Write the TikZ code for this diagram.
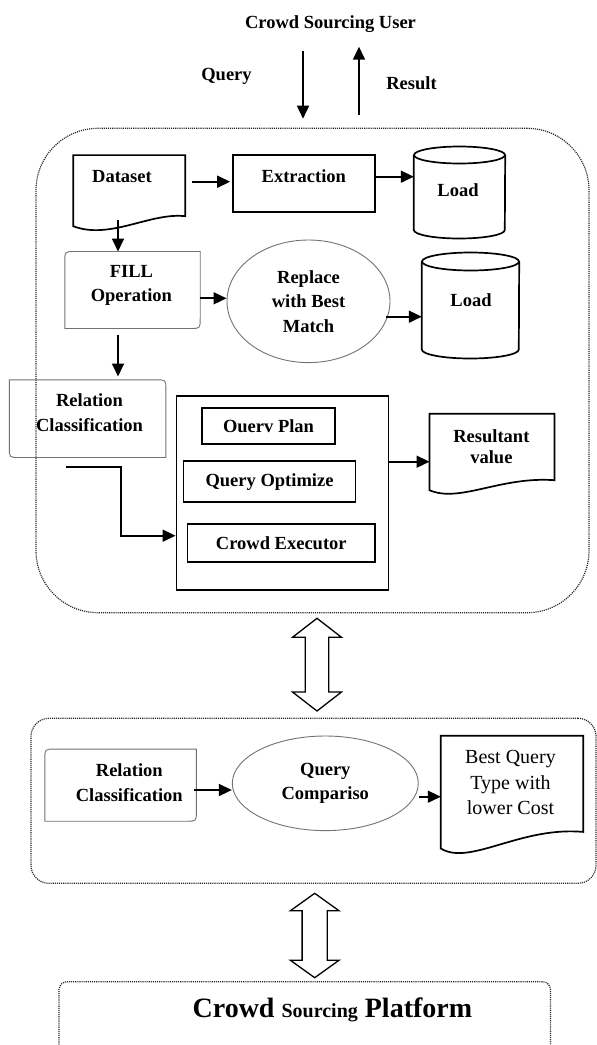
\documentclass[tikz,border=0pt]{standalone}
\usepackage{fontspec}
\setmainfont{Liberation Serif}
\usetikzlibrary{arrows.meta,shapes.geometric,calc}
\begin{document}
\begin{tikzpicture}[x=1pt,y=-1pt,
  lbl/.style={font=\fontsize{18.5}{24.5}\selectfont\bfseries, align=center, inner sep=0pt},
  shp/.style={rectangle, inner sep=0pt},
  blk/.style={draw=black, line width=1.7pt},
  gry/.style={draw=black!55, line width=0.9pt},
  arr/.style={-{Triangle[length=13pt,width=12pt]}, line width=1.7pt},
  dotbox/.style={draw=black!85, line width=1.2pt, dash pattern=on 1.1pt off 1pt, inner sep=0pt},
  dbl/.style={draw, line width=1.3pt, fill=white, line join=miter}]
\useasboundingbox (0,0) rectangle (597,1045);
\clip (0,0) rectangle (597,1045);
\fill[white] (0,0) rectangle (597,1045);

% ---------- top labels ----------
\node[lbl] (user) at (330.5,24.3) {Crowd Sourcing User};
\node[lbl] (qlbl) at (226.5,76.7) {Query};
\node[lbl] (rlbl) at (411.5,83.3) {Result};
\coordinate (qs) at (303,50.7);
\coordinate (re) at (359,46.7);

% ---------- outer box 1 ----------
\node[dotbox, rounded corners=62pt, minimum width=553pt, minimum height=484.4pt] (o1) at (312.5,370.5) {};

\draw[arr, shorten >=9pt] (qs) -- (qs |- o1.north);
\draw[arr, shorten <=12.3pt] (re |- o1.north) -- (re);

% Dataset document
\node[shp, minimum width=111.5pt, minimum height=60.7pt] (ds) at (129.25,185.65) {};
\draw[blk] (ds.south east) -- (ds.north east) -- (ds.north west) -- ($(ds.south west)+(0,10)$)
  .. controls ($(ds.south west)+(36.5,24)$) and ($(ds.south east)+(-35,-4)$) .. (ds.south east) -- cycle;
\node[lbl] (dst) at (122,176.7) {Dataset};

% Extraction
\node[shp, blk, minimum width=142pt, minimum height=56.4pt] (ext) at (304,183.5) {};
\node[lbl] (extt) at (303.8,175.7) {Extraction};

% Load 1
\node[shp, minimum width=91pt, minimum height=91.6pt] (load1) at (459.5,192.5) {};
\draw[blk] ($(load1.north)+(0,8.5)$) ellipse [x radius=45.5pt, y radius=8.5pt];
\draw[blk] ($(load1.north west)+(0,8.5)$) -- ($(load1.south west)+(0,-8.5)$)
  arc[start angle=180, end angle=360, x radius=45.5pt, y radius=8.5pt] -- ($(load1.north east)+(0,8.5)$);
\node[lbl] (l1t) at (458,190) {Load};

% FILL Operation
\node[shp, minimum width=135pt, minimum height=76.6pt] (fill) at (132.5,290) {};
\draw[gry] (fill.south west) -- ($(fill.north west)+(0,10)$) .. controls (fill.north west) .. ($(fill.north west)+(10,0)$)
  -- (fill.north east) -- ($(fill.south east)+(0,-10)$) .. controls (fill.south east) .. ($(fill.south east)+(-10,0)$) -- cycle;
\node[lbl] (fillt) at (131.4,285.3) {FILL\\Operation};

% Replace ellipse
\node[ellipse, gry, lbl, minimum width=163pt, minimum height=122.6pt] (rep) at (308.5,301.3) {Replace\\with Best\\Match};

% Load 2
\node[shp, minimum width=97pt, minimum height=105.6pt] (load2) at (470.5,305.5) {};
\draw[blk] ($(load2.north)+(0,9)$) ellipse [x radius=48.5pt, y radius=9pt];
\draw[blk] ($(load2.north west)+(0,9)$) -- ($(load2.south west)+(0,-9)$)
  arc[start angle=180, end angle=360, x radius=48.5pt, y radius=9pt] -- ($(load2.north east)+(0,9)$);
\node[lbl] (l2t) at (471,300) {Load};

% Relation Classification
\node[shp, minimum width=156.2pt, minimum height=77.3pt] (rel) at (87.6,418.65) {};
\draw[gry] (rel.north west) -- ($(rel.north east)+(-10,0)$) .. controls (rel.north east) .. ($(rel.north east)+(0,10)$)
  -- (rel.south east) -- ($(rel.south west)+(10,0)$) .. controls (rel.south west) .. ($(rel.south west)+(0,-10)$) -- cycle;
\node[lbl] (relt) at (89.5,412.5) {Relation\\Classification};

% Big box with inner boxes
\node[shp, blk, minimum width=212.2pt, minimum height=194.3pt] (big) at (282.5,492.85) {};
\node[shp, blk, lbl, minimum width=133pt, minimum height=36.6pt] (qp) at (268.5,426) {Ouerv Plan};
\node[shp, blk, lbl, minimum width=171.8pt, minimum height=41.3pt] (qo) at (269.5,481.65) {Query Optimize};
\node[shp, blk, lbl, minimum width=187.8pt, minimum height=37.7pt] (ce) at (281.3,542.85) {Crowd Executor};

% Resultant value document
\node[shp, minimum width=124.6pt, minimum height=66pt] (res) at (492,447) {};
\draw[blk] (res.south east) -- (res.north east) -- (res.north west) -- ($(res.south west)+(0,10)$)
  .. controls ($(res.south west)+(30.3,23)$) and ($(res.south east)+(-54.3,-4)$) .. (res.south east) -- cycle;
\node[lbl, font=\fontsize{18.5}{21}\selectfont\bfseries] (rest) at (491.4,446.2) {Resultant\\value};

% connectors in box 1
\draw[arr, shorten <=7pt, shorten >=2pt] (ds.east |- 0,181.7) -- (ext.west |- 0,181.7);
\draw[arr] (ext.east |- 0,176.7) -- (load1.west |- 0,176.7);
\draw[arr] (ds.south -| 118,0) ++(0,4) -- (fill.north -| 118,0);
\draw[arr] (fill.east |- 0,298.3) -- (rep.west |- 0,298.3);
\draw[arr, shorten <=-1pt] (rep.east |- 0,316.7) ++(-3,0) -- (load2.west |- 0,316.7);
\draw[arr, shorten <=6.7pt, shorten >=3.3pt] (fill.south -| 118,0) -- (rel.north -| 118,0);
\draw[arr] (rel.south -| 65.5,0) ++(0,9.4) -| (121.1,535.7) -- (big.west |- 0,535.7);
\draw[arr] (big.east |- 0,461.7) -- (res.west |- 0,461.7);

% ---------- double arrow 1 ----------
\draw[dbl] (317,618.3) -- (341.5,637.3) -- (328.8,637.3) -- (328.8,692) -- (341.5,692) -- (317,711)
  -- (292.5,692) -- (305.2,692) -- (305.2,637.3) -- (292.5,637.3) -- cycle;

% ---------- outer box 2 ----------
\node[dotbox, rounded corners=18pt, minimum width=565pt, minimum height=165pt] (o2) at (313.5,800.8) {};

\node[shp, minimum width=151.2pt, minimum height=71.7pt] (rel2) at (120.6,785.15) {};
\draw[gry] (rel2.south west) -- ($(rel2.north west)+(0,10)$) .. controls (rel2.north west) .. ($(rel2.north west)+(10,0)$)
  -- (rel2.north east) -- ($(rel2.south east)+(0,-10)$) .. controls (rel2.south east) .. ($(rel2.south east)+(-10,0)$) -- cycle;
\node[lbl] (rel2t) at (129.3,782.9) {Relation\\Classification};

\node[ellipse, gry, lbl, minimum width=186pt, minimum height=94.6pt] (cmp) at (325.3,783.3) {Query\\Compariso};

\node[shp, minimum width=142pt, minimum height=95.7pt] (best) at (512,783.85) {};
\draw[blk] (best.south east) -- (best.north east) -- (best.north west) -- ($(best.south west)+(0,16.6)$)
  .. controls ($(best.south west)+(29,34.3)$) and ($(best.south east)+(-63,-5.7)$) .. (best.south east) -- cycle;
\node[font=\fontsize{20}{25.8}\selectfont, align=center, inner sep=0pt] (bestt) at (510.5,782.5) {Best Query\\Type with\\lower Cost};

\draw[arr, shorten <=-2.7pt] (rel2.east |- 0,790) -- (cmp.west |- 0,790);
\draw[arr] (cmp.east |- 0,796.7) -- (best.west |- 0,796.7);

% ---------- double arrow 2 ----------
\draw[dbl] (314.7,893.3) -- (339.1,910.8) -- (327.3,910.8) -- (327.3,960.2) -- (339.1,960.2) -- (314.7,977.7)
  -- (290.3,960.2) -- (302.1,960.2) -- (302.1,910.8) -- (290.3,910.8) -- cycle;

% ---------- platform box ----------
\node[dotbox, rounded corners=8pt, minimum width=491.5pt, minimum height=78.3pt] (o3) at (304.75,1020.85) {};
\node[font=\bfseries, inner sep=0pt] (plat) at (332.4,1010) {\fontsize{28}{30}\selectfont Crowd {\fontsize{20}{22}\selectfont Sourcing} Platform};
\end{tikzpicture}
\end{document}
